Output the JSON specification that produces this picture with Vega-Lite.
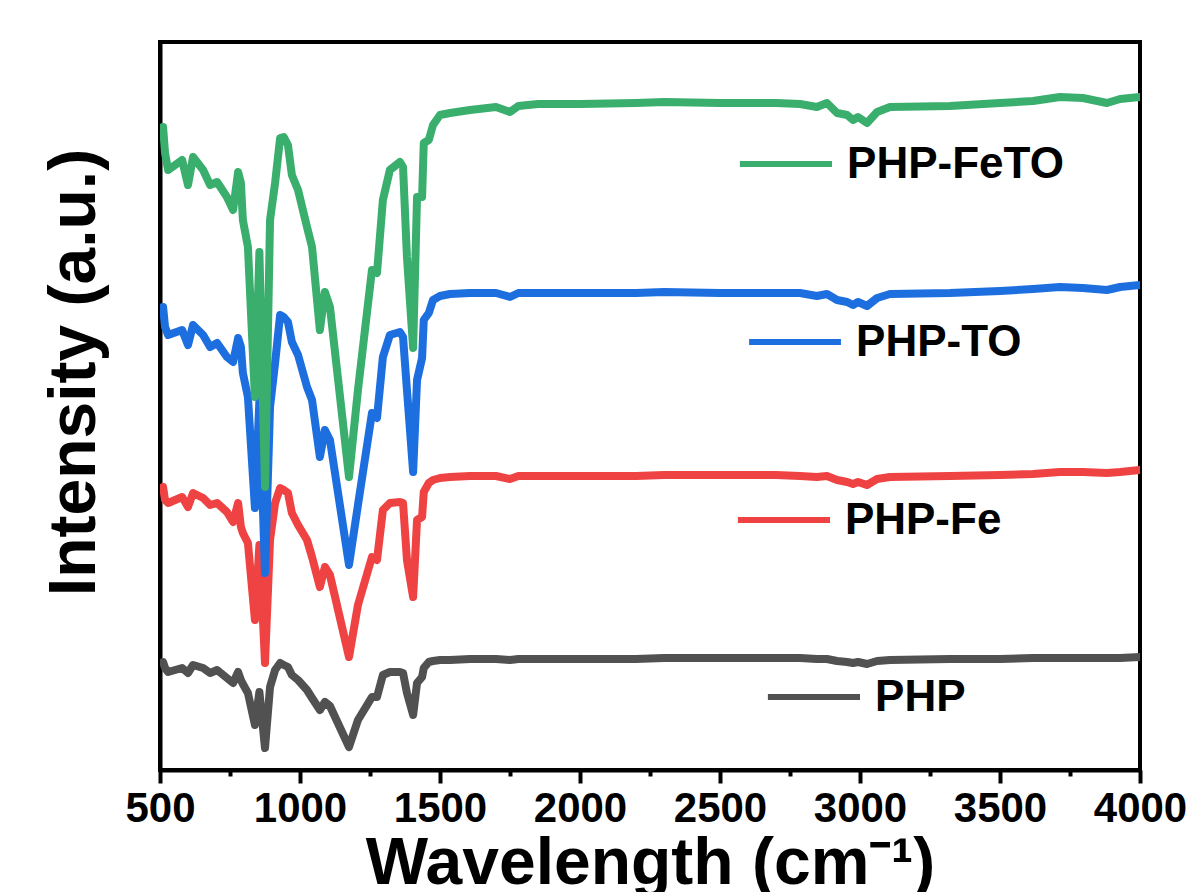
{
  "$schema": "https://vega.github.io/schema/vega-lite/v6.json",
  "width": 980,
  "height": 728,
  "autosize": {"type": "none"},
  "padding": {"left": 160, "top": 42, "right": 53, "bottom": 122},
  "background": "white",
  "config": {
    "view": {"stroke": "black", "strokeWidth": 4},
    "font": "Liberation Sans"
  },
  "layer": [
    {
      "data": {"values": [
        {"s":"PHP","x":511,"y":108},{"s":"PHP","x":518,"y":102},{"s":"PHP","x":529,"y":98},{"s":"PHP","x":579,"y":102},{"s":"PHP","x":600,"y":97},{"s":"PHP","x":618,"y":105},{"s":"PHP","x":654,"y":102},{"s":"PHP","x":679,"y":97},{"s":"PHP","x":704,"y":100},{"s":"PHP","x":739,"y":92},{"s":"PHP","x":761,"y":87},{"s":"PHP","x":779,"y":98},{"s":"PHP","x":789,"y":90},{"s":"PHP","x":796,"y":86},{"s":"PHP","x":814,"y":77},{"s":"PHP","x":839,"y":45},{"s":"PHP","x":855,"y":78},{"s":"PHP","x":875,"y":22},{"s":"PHP","x":893,"y":83},{"s":"PHP","x":911,"y":100},{"s":"PHP","x":929,"y":107},{"s":"PHP","x":942,"y":105},{"s":"PHP","x":957,"y":103},{"s":"PHP","x":971,"y":95},{"s":"PHP","x":993,"y":90},{"s":"PHP","x":1025,"y":80},{"s":"PHP","x":1043,"y":72},{"s":"PHP","x":1071,"y":60},{"s":"PHP","x":1089,"y":68},{"s":"PHP","x":1107,"y":64},{"s":"PHP","x":1175,"y":23},{"s":"PHP","x":1207,"y":50},{"s":"PHP","x":1257,"y":73},{"s":"PHP","x":1275,"y":73},{"s":"PHP","x":1296,"y":95},{"s":"PHP","x":1321,"y":98},{"s":"PHP","x":1357,"y":98},{"s":"PHP","x":1368,"y":97},{"s":"PHP","x":1382,"y":77},{"s":"PHP","x":1404,"y":55},{"s":"PHP","x":1418,"y":87},{"s":"PHP","x":1436,"y":93},{"s":"PHP","x":1442,"y":102},{"s":"PHP","x":1460,"y":108},{"s":"PHP","x":1475,"y":109},{"s":"PHP","x":1500,"y":110},{"s":"PHP","x":1536,"y":110},{"s":"PHP","x":1607,"y":111},{"s":"PHP","x":1700,"y":111},{"s":"PHP","x":1750,"y":110},{"s":"PHP","x":1780,"y":111},{"s":"PHP","x":1850,"y":111},{"s":"PHP","x":2000,"y":111},{"s":"PHP","x":2200,"y":111},{"s":"PHP","x":2300,"y":112},{"s":"PHP","x":2500,"y":112},{"s":"PHP","x":2700,"y":112},{"s":"PHP","x":2786,"y":112},{"s":"PHP","x":2846,"y":111},{"s":"PHP","x":2882,"y":111},{"s":"PHP","x":2918,"y":109},{"s":"PHP","x":2954,"y":108},{"s":"PHP","x":2975,"y":107},{"s":"PHP","x":2993,"y":108},{"s":"PHP","x":3025,"y":106},{"s":"PHP","x":3061,"y":109},{"s":"PHP","x":3107,"y":110},{"s":"PHP","x":3321,"y":111},{"s":"PHP","x":3500,"y":111},{"s":"PHP","x":3618,"y":112},{"s":"PHP","x":3714,"y":112},{"s":"PHP","x":3796,"y":112},{"s":"PHP","x":3882,"y":112},{"s":"PHP","x":3929,"y":112},{"s":"PHP","x":4000,"y":113},

        {"s":"PHP-Fe","x":511,"y":283},{"s":"PHP-Fe","x":518,"y":270},{"s":"PHP-Fe","x":529,"y":267},{"s":"PHP-Fe","x":579,"y":273},{"s":"PHP-Fe","x":600,"y":263},{"s":"PHP-Fe","x":618,"y":277},{"s":"PHP-Fe","x":654,"y":272},{"s":"PHP-Fe","x":679,"y":265},{"s":"PHP-Fe","x":704,"y":267},{"s":"PHP-Fe","x":739,"y":258},{"s":"PHP-Fe","x":761,"y":248},{"s":"PHP-Fe","x":779,"y":267},{"s":"PHP-Fe","x":789,"y":243},{"s":"PHP-Fe","x":796,"y":237},{"s":"PHP-Fe","x":814,"y":227},{"s":"PHP-Fe","x":839,"y":150},{"s":"PHP-Fe","x":855,"y":225},{"s":"PHP-Fe","x":875,"y":107},{"s":"PHP-Fe","x":893,"y":230},{"s":"PHP-Fe","x":911,"y":267},{"s":"PHP-Fe","x":929,"y":282},{"s":"PHP-Fe","x":942,"y":280},{"s":"PHP-Fe","x":957,"y":277},{"s":"PHP-Fe","x":971,"y":257},{"s":"PHP-Fe","x":993,"y":245},{"s":"PHP-Fe","x":1025,"y":230},{"s":"PHP-Fe","x":1043,"y":213},{"s":"PHP-Fe","x":1071,"y":183},{"s":"PHP-Fe","x":1089,"y":203},{"s":"PHP-Fe","x":1107,"y":195},{"s":"PHP-Fe","x":1175,"y":113},{"s":"PHP-Fe","x":1207,"y":165},{"s":"PHP-Fe","x":1257,"y":213},{"s":"PHP-Fe","x":1275,"y":210},{"s":"PHP-Fe","x":1296,"y":260},{"s":"PHP-Fe","x":1321,"y":267},{"s":"PHP-Fe","x":1357,"y":268},{"s":"PHP-Fe","x":1368,"y":267},{"s":"PHP-Fe","x":1382,"y":210},{"s":"PHP-Fe","x":1404,"y":173},{"s":"PHP-Fe","x":1418,"y":250},{"s":"PHP-Fe","x":1436,"y":253},{"s":"PHP-Fe","x":1442,"y":278},{"s":"PHP-Fe","x":1460,"y":287},{"s":"PHP-Fe","x":1475,"y":290},{"s":"PHP-Fe","x":1500,"y":292},{"s":"PHP-Fe","x":1536,"y":293},{"s":"PHP-Fe","x":1607,"y":294},{"s":"PHP-Fe","x":1700,"y":294},{"s":"PHP-Fe","x":1750,"y":291},{"s":"PHP-Fe","x":1780,"y":294},{"s":"PHP-Fe","x":1850,"y":294},{"s":"PHP-Fe","x":2000,"y":294},{"s":"PHP-Fe","x":2200,"y":294},{"s":"PHP-Fe","x":2300,"y":295},{"s":"PHP-Fe","x":2500,"y":295},{"s":"PHP-Fe","x":2700,"y":295},{"s":"PHP-Fe","x":2786,"y":294},{"s":"PHP-Fe","x":2846,"y":293},{"s":"PHP-Fe","x":2882,"y":294},{"s":"PHP-Fe","x":2918,"y":290},{"s":"PHP-Fe","x":2954,"y":288},{"s":"PHP-Fe","x":2975,"y":286},{"s":"PHP-Fe","x":2993,"y":288},{"s":"PHP-Fe","x":3025,"y":285},{"s":"PHP-Fe","x":3061,"y":291},{"s":"PHP-Fe","x":3107,"y":293},{"s":"PHP-Fe","x":3321,"y":294},{"s":"PHP-Fe","x":3500,"y":295},{"s":"PHP-Fe","x":3618,"y":296},{"s":"PHP-Fe","x":3714,"y":298},{"s":"PHP-Fe","x":3796,"y":298},{"s":"PHP-Fe","x":3882,"y":297},{"s":"PHP-Fe","x":3929,"y":298},{"s":"PHP-Fe","x":4000,"y":300},

        {"s":"PHP-TO","x":511,"y":463},{"s":"PHP-TO","x":518,"y":443},{"s":"PHP-TO","x":529,"y":435},{"s":"PHP-TO","x":579,"y":440},{"s":"PHP-TO","x":600,"y":425},{"s":"PHP-TO","x":618,"y":445},{"s":"PHP-TO","x":654,"y":435},{"s":"PHP-TO","x":679,"y":423},{"s":"PHP-TO","x":704,"y":427},{"s":"PHP-TO","x":739,"y":413},{"s":"PHP-TO","x":761,"y":408},{"s":"PHP-TO","x":779,"y":432},{"s":"PHP-TO","x":789,"y":423},{"s":"PHP-TO","x":796,"y":397},{"s":"PHP-TO","x":814,"y":373},{"s":"PHP-TO","x":839,"y":262},{"s":"PHP-TO","x":855,"y":370},{"s":"PHP-TO","x":875,"y":197},{"s":"PHP-TO","x":893,"y":363},{"s":"PHP-TO","x":911,"y":407},{"s":"PHP-TO","x":929,"y":455},{"s":"PHP-TO","x":942,"y":453},{"s":"PHP-TO","x":957,"y":448},{"s":"PHP-TO","x":971,"y":428},{"s":"PHP-TO","x":993,"y":415},{"s":"PHP-TO","x":1025,"y":383},{"s":"PHP-TO","x":1043,"y":370},{"s":"PHP-TO","x":1071,"y":313},{"s":"PHP-TO","x":1089,"y":340},{"s":"PHP-TO","x":1107,"y":330},{"s":"PHP-TO","x":1175,"y":205},{"s":"PHP-TO","x":1207,"y":265},{"s":"PHP-TO","x":1257,"y":357},{"s":"PHP-TO","x":1275,"y":352},{"s":"PHP-TO","x":1296,"y":413},{"s":"PHP-TO","x":1321,"y":435},{"s":"PHP-TO","x":1357,"y":438},{"s":"PHP-TO","x":1368,"y":433},{"s":"PHP-TO","x":1382,"y":380},{"s":"PHP-TO","x":1404,"y":298},{"s":"PHP-TO","x":1418,"y":390},{"s":"PHP-TO","x":1436,"y":412},{"s":"PHP-TO","x":1442,"y":450},{"s":"PHP-TO","x":1460,"y":457},{"s":"PHP-TO","x":1475,"y":470},{"s":"PHP-TO","x":1500,"y":474},{"s":"PHP-TO","x":1536,"y":476},{"s":"PHP-TO","x":1607,"y":477},{"s":"PHP-TO","x":1700,"y":477},{"s":"PHP-TO","x":1750,"y":473},{"s":"PHP-TO","x":1780,"y":477},{"s":"PHP-TO","x":1850,"y":477},{"s":"PHP-TO","x":2000,"y":477},{"s":"PHP-TO","x":2200,"y":477},{"s":"PHP-TO","x":2300,"y":478},{"s":"PHP-TO","x":2500,"y":477},{"s":"PHP-TO","x":2700,"y":477},{"s":"PHP-TO","x":2786,"y":477},{"s":"PHP-TO","x":2846,"y":474},{"s":"PHP-TO","x":2882,"y":476},{"s":"PHP-TO","x":2918,"y":470},{"s":"PHP-TO","x":2954,"y":468},{"s":"PHP-TO","x":2975,"y":465},{"s":"PHP-TO","x":2993,"y":468},{"s":"PHP-TO","x":3025,"y":464},{"s":"PHP-TO","x":3061,"y":472},{"s":"PHP-TO","x":3107,"y":476},{"s":"PHP-TO","x":3321,"y":477},{"s":"PHP-TO","x":3500,"y":479},{"s":"PHP-TO","x":3618,"y":481},{"s":"PHP-TO","x":3714,"y":483},{"s":"PHP-TO","x":3796,"y":482},{"s":"PHP-TO","x":3882,"y":480},{"s":"PHP-TO","x":3929,"y":483},{"s":"PHP-TO","x":4000,"y":485},

        {"s":"PHP-FeTO","x":511,"y":643},{"s":"PHP-FeTO","x":518,"y":617},{"s":"PHP-FeTO","x":529,"y":600},{"s":"PHP-FeTO","x":579,"y":610},{"s":"PHP-FeTO","x":600,"y":585},{"s":"PHP-FeTO","x":618,"y":613},{"s":"PHP-FeTO","x":654,"y":600},{"s":"PHP-FeTO","x":679,"y":585},{"s":"PHP-FeTO","x":704,"y":588},{"s":"PHP-FeTO","x":739,"y":573},{"s":"PHP-FeTO","x":761,"y":560},{"s":"PHP-FeTO","x":779,"y":598},{"s":"PHP-FeTO","x":789,"y":587},{"s":"PHP-FeTO","x":796,"y":550},{"s":"PHP-FeTO","x":814,"y":523},{"s":"PHP-FeTO","x":839,"y":373},{"s":"PHP-FeTO","x":855,"y":518},{"s":"PHP-FeTO","x":875,"y":283},{"s":"PHP-FeTO","x":893,"y":550},{"s":"PHP-FeTO","x":911,"y":587},{"s":"PHP-FeTO","x":929,"y":632},{"s":"PHP-FeTO","x":942,"y":633},{"s":"PHP-FeTO","x":957,"y":625},{"s":"PHP-FeTO","x":971,"y":595},{"s":"PHP-FeTO","x":993,"y":580},{"s":"PHP-FeTO","x":1025,"y":543},{"s":"PHP-FeTO","x":1043,"y":523},{"s":"PHP-FeTO","x":1071,"y":440},{"s":"PHP-FeTO","x":1089,"y":478},{"s":"PHP-FeTO","x":1107,"y":463},{"s":"PHP-FeTO","x":1175,"y":293},{"s":"PHP-FeTO","x":1207,"y":380},{"s":"PHP-FeTO","x":1257,"y":500},{"s":"PHP-FeTO","x":1275,"y":497},{"s":"PHP-FeTO","x":1296,"y":570},{"s":"PHP-FeTO","x":1321,"y":600},{"s":"PHP-FeTO","x":1357,"y":608},{"s":"PHP-FeTO","x":1368,"y":603},{"s":"PHP-FeTO","x":1382,"y":513},{"s":"PHP-FeTO","x":1404,"y":422},{"s":"PHP-FeTO","x":1418,"y":573},{"s":"PHP-FeTO","x":1436,"y":573},{"s":"PHP-FeTO","x":1442,"y":627},{"s":"PHP-FeTO","x":1460,"y":630},{"s":"PHP-FeTO","x":1475,"y":645},{"s":"PHP-FeTO","x":1500,"y":655},{"s":"PHP-FeTO","x":1536,"y":657},{"s":"PHP-FeTO","x":1607,"y":660},{"s":"PHP-FeTO","x":1700,"y":663},{"s":"PHP-FeTO","x":1750,"y":658},{"s":"PHP-FeTO","x":1780,"y":664},{"s":"PHP-FeTO","x":1850,"y":666},{"s":"PHP-FeTO","x":2000,"y":666},{"s":"PHP-FeTO","x":2200,"y":667},{"s":"PHP-FeTO","x":2300,"y":668},{"s":"PHP-FeTO","x":2500,"y":667},{"s":"PHP-FeTO","x":2700,"y":667},{"s":"PHP-FeTO","x":2786,"y":666},{"s":"PHP-FeTO","x":2846,"y":663},{"s":"PHP-FeTO","x":2882,"y":667},{"s":"PHP-FeTO","x":2918,"y":657},{"s":"PHP-FeTO","x":2954,"y":655},{"s":"PHP-FeTO","x":2975,"y":650},{"s":"PHP-FeTO","x":2993,"y":653},{"s":"PHP-FeTO","x":3025,"y":647},{"s":"PHP-FeTO","x":3061,"y":658},{"s":"PHP-FeTO","x":3107,"y":663},{"s":"PHP-FeTO","x":3321,"y":664},{"s":"PHP-FeTO","x":3500,"y":667},{"s":"PHP-FeTO","x":3618,"y":669},{"s":"PHP-FeTO","x":3714,"y":673},{"s":"PHP-FeTO","x":3796,"y":672},{"s":"PHP-FeTO","x":3882,"y":667},{"s":"PHP-FeTO","x":3929,"y":671},{"s":"PHP-FeTO","x":4000,"y":673}
      ]},
      "mark": {"type": "line", "strokeWidth": 8, "strokeJoin": "round", "strokeCap": "round", "clip": true},
      "encoding": {
        "x": {
          "field": "x", "type": "quantitative",
          "scale": {"domain": [500, 4000], "nice": false, "zero": false},
          "axis": {
            "values": [500, 750, 1000, 1250, 1500, 1750, 2000, 2250, 2500, 2750, 3000, 3250, 3500, 3750, 4000],
            "format": "d",
            "labelExpr": "datum.value % 500 === 0 ? datum.label : ''",
            "tickSize": {"condition": {"test": "datum.value % 500 === 0", "value": 13}, "value": 6},
            "tickWidth": 4, "tickColor": "black",
            "domainColor": "black", "domainWidth": 4,
            "labelFont": "Liberation Sans", "labelFontWeight": "bold", "labelFontSize": 42, "labelColor": "black",
            "labelPadding": 5, "labelFlush": false, "labelOverlap": false,
            "grid": false,
            "title": "Wavelength (cm⁻¹)",
            "titleFont": "Liberation Sans", "titleFontWeight": "bold", "titleFontSize": 66, "titleColor": "black",
            "titleY": 113, "titleBaseline": "alphabetic"
          }
        },
        "y": {
          "field": "y", "type": "quantitative",
          "scale": {"domain": [0, 728], "nice": false, "zero": false},
          "axis": {
            "ticks": false, "labels": false, "grid": false,
            "domainColor": "black", "domainWidth": 4,
            "title": "Intensity (a.u.)",
            "titleFont": "Liberation Sans", "titleFontWeight": "bold", "titleFontSize": 66, "titleColor": "black",
            "titleAngle": -90, "titleX": -66, "titleY": 330, "titleBaseline": "alphabetic", "titleAlign": "center"
          }
        },
        "color": {
          "field": "s", "type": "nominal",
          "scale": {"domain": ["PHP", "PHP-Fe", "PHP-TO", "PHP-FeTO"], "range": ["#515151", "#EF4343", "#1D6FDF", "#3AAE6C"]},
          "legend": null
        }
      }
    },
    {
      "data": {"values": [
        {"s":"PHP-FeTO","x":2571,"x2":2900,"y":606,"tx":2954},
        {"s":"PHP-TO","x":2604,"x2":2932,"y":428,"tx":2986},
        {"s":"PHP-Fe","x":2564,"x2":2893,"y":250,"tx":2946},
        {"s":"PHP","x":2671,"x2":3000,"y":73,"tx":3054}
      ]},
      "layer": [
        {
          "mark": {"type": "rule", "strokeWidth": 6},
          "encoding": {
            "x": {"field": "x", "type": "quantitative"},
            "x2": {"field": "x2"},
            "y": {"field": "y", "type": "quantitative"},
            "color": {"field": "s", "type": "nominal", "legend": null}
          }
        },
        {
          "mark": {"type": "text", "align": "left", "baseline": "middle", "font": "Liberation Sans", "fontWeight": "bold", "fontSize": 44, "color": "black", "dy": 1},
          "encoding": {
            "x": {"field": "tx", "type": "quantitative"},
            "y": {"field": "y", "type": "quantitative"},
            "text": {"field": "s"}
          }
        }
      ]
    }
  ]
}
